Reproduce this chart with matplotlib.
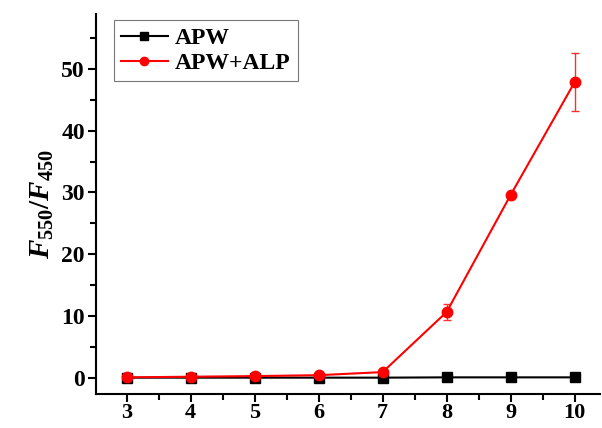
import matplotlib
matplotlib.use('Agg')
import matplotlib.pyplot as plt
from matplotlib.ticker import MultipleLocator

# Data
ph = [3, 4, 5, 6, 7, 8, 9, 10]
apw = [0.1, 0.1, 0.1, 0.1, 0.1, 0.15, 0.15, 0.15]
apw_alp = [0.15, 0.25, 0.35, 0.5, 1.0, 10.7, 29.6, 47.8]
apw_alp_err = [0.1, 0.1, 0.1, 0.1, 0.2, 1.3, 0.5, 4.7]

plt.rcParams['font.family'] = 'Liberation Serif'
plt.rcParams['font.weight'] = 'bold'
plt.rcParams['mathtext.fontset'] = 'custom'
plt.rcParams['mathtext.it'] = 'Liberation Serif:italic:bold'
plt.rcParams['mathtext.rm'] = 'Liberation Serif:bold'
plt.rcParams['mathtext.bf'] = 'Liberation Serif:bold'

fig = plt.figure(figsize=(6.02, 4.28), dpi=100)
ax = fig.add_axes([0.1595, 0.080, 0.8375, 0.887])

ax.plot(ph, apw, color='black', marker='s', markersize=6.5, linewidth=1.5, label='APW', zorder=3)
ax.errorbar(ph, apw_alp, yerr=apw_alp_err, color='red', ecolor='#ff3030', marker=None,
            linestyle='none', elinewidth=1.0, capsize=3, capthick=1.0, zorder=4)
ax.plot(ph, apw_alp, color='red', marker='o', markersize=7.5, linewidth=1.5, label='APW+ALP', zorder=5)

ax.set_xlim(2.52, 10.4)
ax.set_ylim(-2.5, 58.8)
ax.xaxis.set_major_locator(MultipleLocator(1))
ax.xaxis.set_minor_locator(MultipleLocator(0.5))
ax.yaxis.set_major_locator(MultipleLocator(10))
ax.yaxis.set_minor_locator(MultipleLocator(5))

ax.spines['top'].set_visible(False)
ax.spines['right'].set_visible(False)
for s in ['left', 'bottom']:
    ax.spines[s].set_linewidth(1.5)
ax.tick_params(which='major', direction='out', length=6, width=1.5, labelsize=17, pad=2)
ax.tick_params(which='minor', direction='out', length=4, width=1.5)
ax.tick_params(axis='x', which='major', labelsize=16, pad=1)
for lab in ax.get_xticklabels() + ax.get_yticklabels():
    lab.set_fontweight('bold')

ax.set_ylabel(r'$F_{550}/F_{450}$', fontsize=21, labelpad=4)

leg = ax.legend(loc='upper left', bbox_to_anchor=(0.03, 0.99), fontsize=17,
                frameon=True, fancybox=False, edgecolor='#555555', borderaxespad=0.1,
                handlelength=2.0, handletextpad=0.3, borderpad=0.3, labelspacing=0.15,
                markerscale=0.8)
leg.get_frame().set_linewidth(0.8)
for t in leg.get_texts():
    t.set_fontweight('bold')

plt.savefig('out.png', dpi=100)
plt.close()
